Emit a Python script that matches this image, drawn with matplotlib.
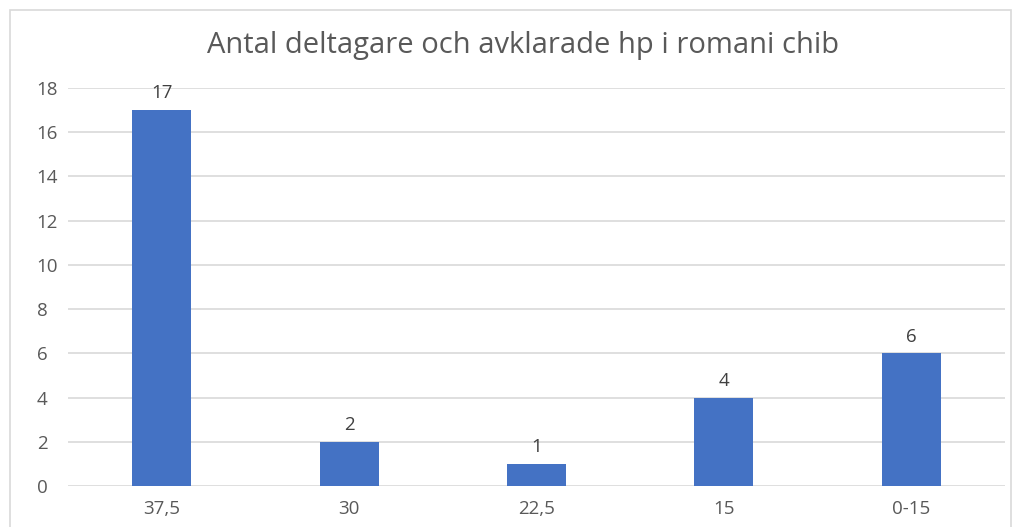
import matplotlib
matplotlib.use("Agg")
import matplotlib.pyplot as plt
from matplotlib.patches import Rectangle

categories = ["37,5", "30", "22,5", "15", "0-15"]
values = [17, 2, 1, 4, 6]
yticks = [0, 2, 4, 6, 8, 10, 12, 14, 16, 18]

plt.rcParams['font.family'] = ['Open Sans', 'DejaVu Sans']

W, H = 1019, 527
fig = plt.figure(figsize=(W / 100, H / 100), dpi=100)
fig.patch.set_facecolor("white")

# outer chart border
fig.patches.append(Rectangle((10 / W, -0.01), (1011 - 10) / W, (H - 10) / H + 0.01,
                             transform=fig.transFigure, fill=False,
                             edgecolor="#d9d9d9", linewidth=1.2))

ax = fig.add_axes([68 / W, (H - 486) / H, (1005 - 68) / W, (486 - 88) / H])
x = range(len(categories))
bars = ax.bar(x, values, width=0.315, color="#4472C4", zorder=3)

ax.set_ylim(0, 18)
ax.set_xlim(-0.5, len(categories) - 0.5)
ax.set_yticks(yticks)
ax.set_xticks(list(x))
ax.set_xticklabels(categories)
ax.yaxis.grid(True, color="#d9d9d9", linewidth=1.2, zorder=0)
for s in ax.spines.values():
    s.set_visible(False)
ax.tick_params(axis="both", length=0, colors="#595959", labelsize=13.5)
ax.tick_params(axis="x", pad=10)
ax.tick_params(axis="y", pad=22.5)
for lab in ax.get_yticklabels():
    lab.set_horizontalalignment("left")

for b, v in zip(bars, values):
    ax.text(b.get_x() + b.get_width() / 2, v + 0.35, str(v), ha="center",
            va="bottom", color="#404040", fontsize=13.5)

fig.text((203 + 843) / 2 / W, 1 - 46 / H, "Antal deltagare och avklarade hp i romani chib",
         ha="center", va="center", fontsize=21, color="#595959")

fig.savefig("out.png", dpi=100)
